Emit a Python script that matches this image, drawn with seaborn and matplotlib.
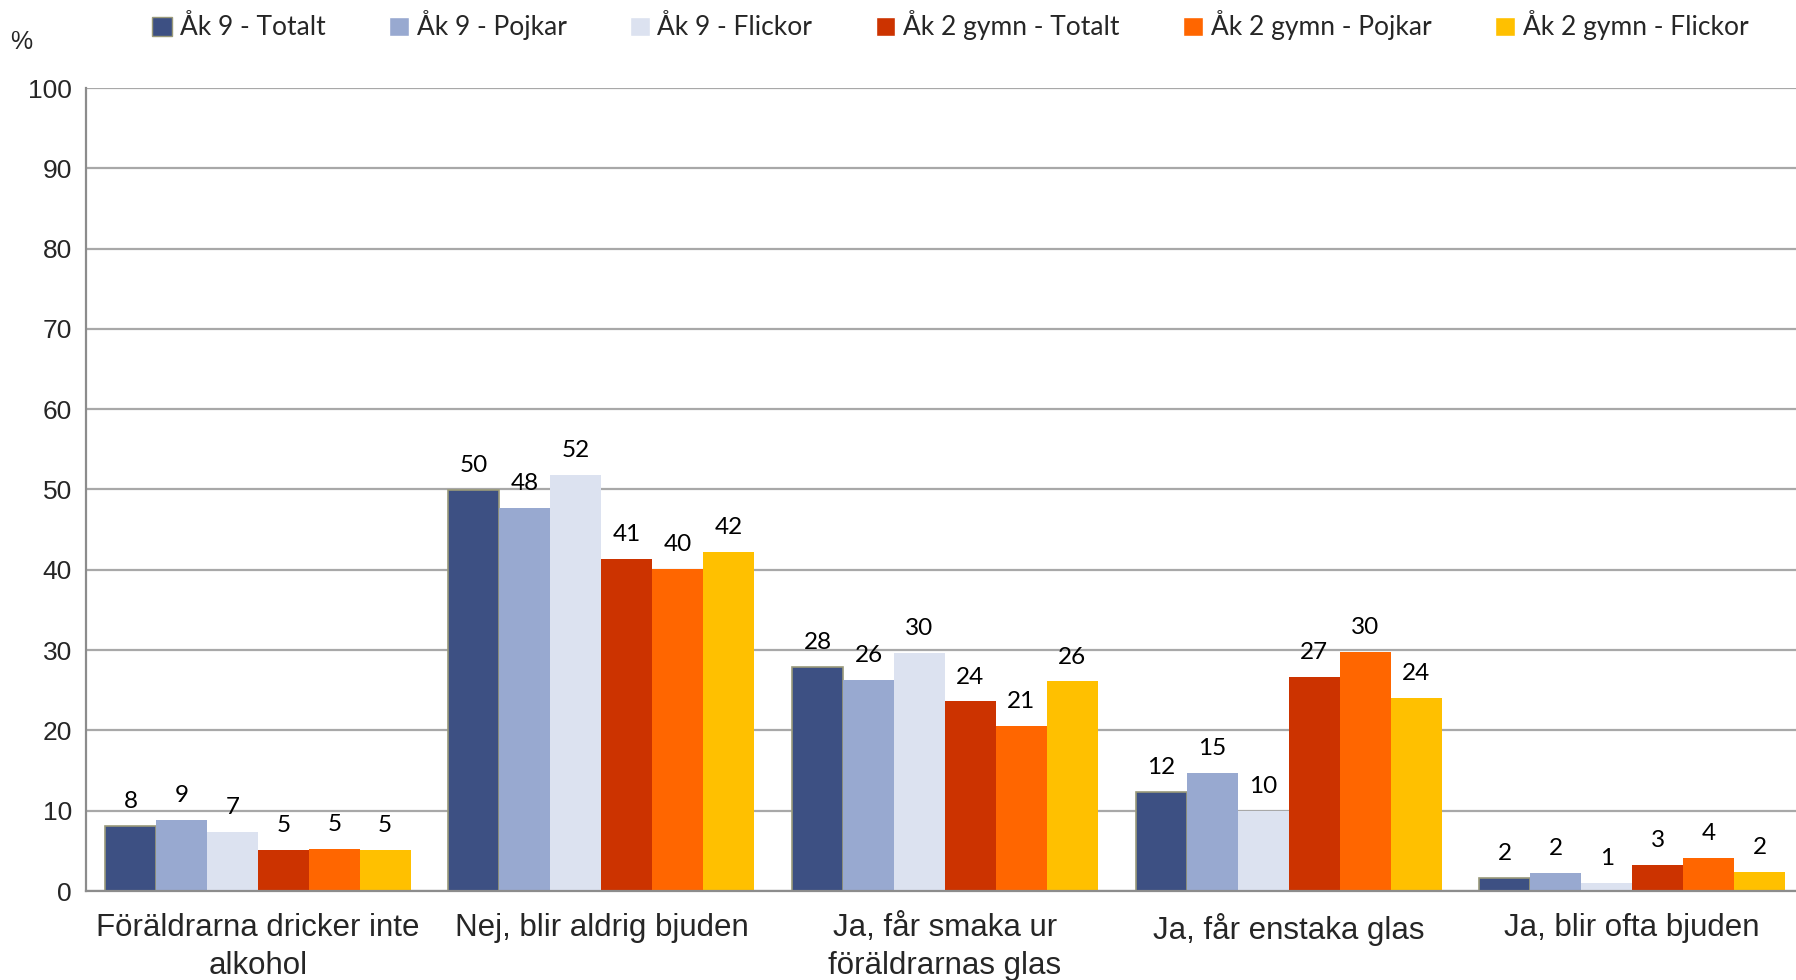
import numpy as np
import pandas as pd
import matplotlib
matplotlib.use("Agg")
import matplotlib.pyplot as plt
import seaborn as sns

categories = ["Föräldrarna dricker inte\nalkohol", "Nej, blir aldrig bjuden",
              "Ja, får smaka ur\nföräldrarnas glas", "Ja, får enstaka glas",
              "Ja, blir ofta bjuden"]
series = ["Åk 9 - Totalt", "Åk 9 - Pojkar", "Åk 9 - Flickor",
          "Åk 2 gymn - Totalt", "Åk 2 gymn - Pojkar", "Åk 2 gymn - Flickor"]
ak9_totalt = [8.1, 49.9, 27.9, 12.3, 1.6]
ak9_pojkar = [8.9, 47.7, 26.3, 14.7, 2.2]
ak9_flickor = [7.4, 51.8, 29.7, 10.0, 0.95]
gymn_totalt = [5.1, 41.3, 23.6, 26.7, 3.2]
gymn_pojkar = [5.2, 40.1, 20.6, 29.8, 4.1]
gymn_flickor = [5.1, 42.2, 26.1, 24.0, 2.4]
y_ticks = list(range(0, 101, 10))

colors = ["#3d5083", "#98a9d0", "#dce2f0", "#cc3300", "#ff6600", "#ffc000"]

values = [ak9_totalt, ak9_pojkar, ak9_flickor, gymn_totalt, gymn_pojkar, gymn_flickor]
rows = []
for s, vals in zip(series, values):
    for c, v in zip(categories, vals):
        rows.append({"kategori": c, "grupp": s, "procent": v})
df = pd.DataFrame(rows)

sns.set_style("white")
plt.rcParams["font.family"] = ["Liberation Sans", "DejaVu Sans"]

fig = plt.figure(figsize=(17.96, 9.80), dpi=100)
ax = fig.add_axes([86 / 1796, 1 - 891 / 980, (1804 - 86) / 1796, (891 - 88) / 980])

sns.barplot(data=df, x="kategori", y="procent", hue="grupp", order=categories,
            hue_order=series, palette=colors, width=0.89, saturation=1,
            errorbar=None, ax=ax, legend=True)

for i, cont in enumerate(ax.containers):
    for bar in cont:
        if i == 0:
            bar.set_edgecolor("#9a9a7a")
            bar.set_linewidth(1.2)
        else:
            bar.set_edgecolor("none")
    ax.bar_label(cont, labels=[f"{v:.0f}" for v in values[i]], padding=10,
                 fontsize=17.5, family="Lato", color="black")

ax.set_ylim(0, 100)
ax.set_xlim(-0.5, len(categories) - 0.5)
ax.set_yticks(y_ticks)
ax.set_yticklabels([str(t) for t in y_ticks], fontsize=19)
ax.yaxis.grid(True, color="#a8a8a8", linewidth=1.6)
ax.set_axisbelow(True)
ax.set_xlabel("")
ax.set_ylabel("")
ax.tick_params(axis="x", which="major", length=0, labelsize=22.5, pad=16)
ax.set_xticks(np.arange(-0.5, len(categories), 1), minor=True)
ax.tick_params(axis="x", which="minor", length=10, width=1.2, color="#8c8c8c")
ax.tick_params(axis="y", length=6, width=1.2, color="#8c8c8c", pad=4)
for lab in ax.get_xticklabels():
    lab.set_linespacing(1.35)

for side in ["top", "right"]:
    ax.spines[side].set_visible(False)
for side in ["left", "bottom"]:
    ax.spines[side].set_color("#8c8c8c")
    ax.spines[side].set_linewidth(1.6)

handles, labels = ax.get_legend_handles_labels()
ax.get_legend().remove()
handles[0].set_edgecolor("#9a9a7a")
fig.legend(handles, labels, loc="center", bbox_to_anchor=(0.529, 0.974), ncol=6,
           frameon=False, handlelength=0.75, handleheight=0.75, handletextpad=0.3,
           columnspacing=2.4, prop={"family": "Lato", "size": 19})

fig.text(21 / 1796, 1 - 42 / 980, "%", fontsize=18, ha="center", va="center")

fig.savefig("out.png", dpi=100)
